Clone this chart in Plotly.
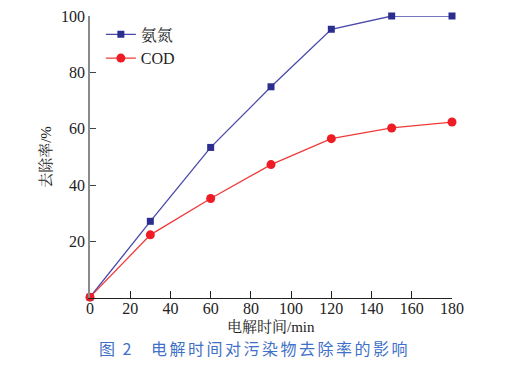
import plotly.graph_objects as go

time_min = [0, 30, 60, 90, 120, 150, 180]
ammonia = [0.3, 27.2, 53.4, 74.9, 95.3, 100.0, 100.0]
cod = [0.3, 22.4, 35.3, 47.3, 56.5, 60.3, 62.4]
x_ticks = [0, 20, 40, 60, 80, 100, 120, 140, 160, 180]
y_ticks = [20, 40, 60, 80, 100]

serif = "'Liberation Serif', 'Times New Roman', 'Noto Serif CJK SC', 'Noto Sans CJK SC', serif"
cjk_sans = "'Noto Sans CJK SC', sans-serif"

fig = go.Figure()
fig.add_trace(go.Scatter(
    x=time_min, y=ammonia, name="氨氮", mode="lines+markers",
    line=dict(color="#4848a8", width=1.3),
    marker=dict(symbol="square", size=7, color="#2b2d8f"),
    cliponaxis=False,
))
fig.add_trace(go.Scatter(
    x=time_min, y=cod, name="COD", mode="lines+markers",
    line=dict(color="#ef3a3a", width=1.3),
    marker=dict(symbol="circle", size=9, color="#ee1c25"),
    cliponaxis=False,
))

PL, PT, PW, PH = 90, 16, 362, 282

fig.update_layout(
    width=514, height=368,
    margin=dict(l=PL, r=514 - PL - PW, t=PT, b=368 - PT - PH, autoexpand=False),
    paper_bgcolor="white", plot_bgcolor="white",
    font=dict(family=serif, size=15, color="#222"),
    showlegend=True,
    legend=dict(x=0.03, y=0.995, xanchor="left", yanchor="top",
                bgcolor="rgba(0,0,0,0)", font=dict(size=16, family=serif),
                tracegroupgap=0, itemwidth=30),
    xaxis=dict(range=[0, 180], tickvals=x_ticks, ticks="inside", ticklen=7,
               tickcolor="#222", showline=True, linecolor="#222", linewidth=1.3,
               showgrid=False, zeroline=False, tickfont=dict(size=16),
               ticklabelstandoff=-4, automargin=False),
    yaxis=dict(range=[0, 100], tickvals=y_ticks, ticks="inside", ticklen=6,
               tickcolor="#444", showline=True, linecolor="#8a8a8a", linewidth=1.5,
               showgrid=False, zeroline=False, tickfont=dict(size=16),
               automargin=False,
               title=dict(text="去除率/%", font=dict(size=15), standoff=6)),
)

def py(pix):
    return (PT + PH - pix) / PH

def px(pix):
    return (pix - PL) / PW

# x-axis title placed as annotation for precise position
fig.add_annotation(text="电解时间/min", xref="paper", yref="paper",
                   x=px(271), y=py(326), xanchor="center", yanchor="middle",
                   showarrow=False, font=dict(family=serif, size=15, color="#222"))

fig.add_annotation(text='<span style="letter-spacing:2px">图 2</span>', xref="paper", yref="paper",
                   x=px(97), y=py(348), xanchor="left", yanchor="middle",
                   showarrow=False,
                   font=dict(family=cjk_sans, size=16, color="#3f72c6"))
fig.add_annotation(text='<span style="letter-spacing:2.5px">电解时间对污染物去除率的影响</span>',
                   xref="paper", yref="paper",
                   x=px(149), y=py(348), xanchor="left", yanchor="middle",
                   showarrow=False,
                   font=dict(family=cjk_sans, size=16, color="#3f72c6"))

fig.write_html("out.html", config={"displayModeBar": False},
               post_script="document.body.style.margin='0';document.body.style.overflow='hidden';")
